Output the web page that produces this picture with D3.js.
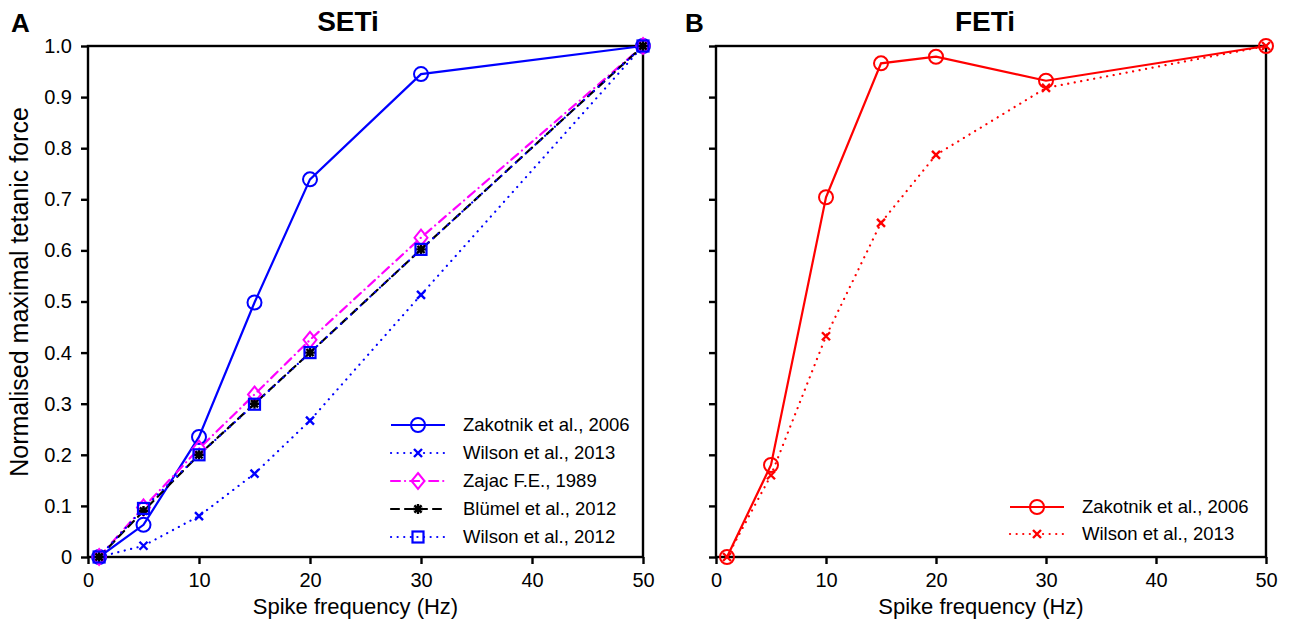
<!DOCTYPE html>
<html>
<head>
<meta charset="utf-8">
<script src="https://cdn.jsdelivr.net/npm/d3@7"></script>
<style>
  html, body { margin: 0; padding: 0; background: #fff; }
  svg { display: block; font-family: "Liberation Sans", Arial, sans-serif; }
</style>
</head>
<body>
<svg id="chart" width="1295" height="623"></svg>
<script>
// Spike frequencies (Hz) shared by all series
const freqs = [1, 5, 10, 15, 20, 30, 50];

// SETi – normalised maximal tetanic force
const setiZakotnik2006 = [0, 0.063, 0.235, 0.498, 0.739, 0.945, 1.0];
const setiWilson2013   = [0, 0.022, 0.080, 0.163, 0.267, 0.513, 1.0];
const setiZajac1989    = [0, 0.097, 0.212, 0.318, 0.425, 0.625, 1.0];
const setiBlumel2012   = [0, 0.090, 0.200, 0.300, 0.400, 0.602, 1.0];
const setiWilson2012   = [0, 0.095, 0.200, 0.299, 0.400, 0.602, 1.0];

// FETi – normalised maximal tetanic force
const fetiZakotnik2006 = [0, 0.180, 0.704, 0.966, 0.979, 0.932, 1.0];
const fetiWilson2013   = [0, 0.160, 0.432, 0.654, 0.787, 0.918, 1.0];

const xTicks = [0, 10, 20, 30, 40, 50];
const yTicks = [0, 0.1, 0.2, 0.3, 0.4, 0.5, 0.6, 0.7, 0.8, 0.9, 1.0];

const BLUE = "#0000ff", MAGENTA = "#ff00ff", BLACK = "#000000", RED = "#ff0000";

const seriesA = [
  { name: "Zakotnik et al., 2006", values: setiZakotnik2006, color: BLUE,    dash: null,        marker: "circle"  },
  { name: "Wilson et al., 2013",   values: setiWilson2013,   color: BLUE,    dash: "0.1 6.5",   marker: "cross"   },
  { name: "Zajac F.E., 1989",      values: setiZajac1989,    color: MAGENTA, dash: "9 5 0.1 5", marker: "diamond" },
  { name: "Blümel et al., 2012",   values: setiBlumel2012,   color: BLACK,   dash: "8 6",       marker: "star"    },
  { name: "Wilson et al., 2012",   values: setiWilson2012,   color: BLUE,    dash: "0.1 6.5",   marker: "square"  }
];
const seriesB = [
  { name: "Zakotnik et al., 2006", values: fetiZakotnik2006, color: RED, dash: null,      marker: "circle" },
  { name: "Wilson et al., 2013",   values: fetiWilson2013,   color: RED, dash: "0.1 6.5", marker: "cross"  }
];

const svg = d3.select("#chart");

function drawMarker(g, type, color) {
  if (type === "circle") {
    g.append("circle").attr("r", 7).attr("fill", "none").attr("stroke", color).attr("stroke-width", 2);
  } else if (type === "cross") {
    g.append("path").attr("d", "M-4,-4L4,4M-4,4L4,-4").attr("stroke", color).attr("stroke-width", 2.4).attr("fill", "none");
  } else if (type === "diamond") {
    g.append("path").attr("d", "M0,-8L6.5,0L0,8L-6.5,0Z").attr("fill", "none").attr("stroke", color).attr("stroke-width", 2);
  } else if (type === "star") {
    g.append("path").attr("d", "M-5,0L5,0M0,-5L0,5M-3.6,-3.6L3.6,3.6M-3.6,3.6L3.6,-3.6").attr("stroke", color).attr("stroke-width", 2.4).attr("fill", "none");
  } else if (type === "square") {
    g.append("rect").attr("x", -5.5).attr("y", -5.5).attr("width", 11).attr("height", 11)
      .attr("fill", "none").attr("stroke", color).attr("stroke-width", 2.2);
  }
}

function panel(opts) {
  const { left, right, top, bottom, title, titleX, letter, letterX, series, showYLabels, legend } = opts;
  const x = d3.scaleLinear().domain([0, 50]).range([left, right]);
  const y = d3.scaleLinear().domain([0, 1]).range([bottom, top]);
  const g = svg.append("g");

  // frame
  g.append("rect").attr("x", left).attr("y", top).attr("width", right - left).attr("height", bottom - top)
    .attr("fill", "none").attr("stroke", "#000").attr("stroke-width", 2.4);

  // axes with outward ticks
  const xAxis = g.append("g").attr("transform", `translate(0,${bottom})`)
    .call(d3.axisBottom(x).tickValues(xTicks).tickSize(7).tickPadding(9).tickFormat(d3.format("d")));
  const yAxis = g.append("g").attr("transform", `translate(${left},0)`)
    .call(d3.axisLeft(y).tickValues(yTicks).tickSize(7).tickPadding(9)
      .tickFormat(showYLabels ? (d => d === 0 ? "0" : d3.format(".1f")(d)) : () => ""));
  [xAxis, yAxis].forEach(a => {
    a.select(".domain").remove();
    a.selectAll(".tick line").attr("stroke", "#000").attr("stroke-width", 2.4);
    a.selectAll(".tick text").attr("fill", "#000").style("font-size", "20px");
  });

  const line = d3.line().x((d, i) => x(freqs[i])).y(d => y(d));
  series.forEach(s => {
    g.append("path").datum(s.values).attr("d", line)
      .attr("fill", "none").attr("stroke", s.color).attr("stroke-width", 2.2)
      .attr("stroke-linecap", s.dash ? "round" : "butt")
      .attr("stroke-dasharray", s.dash);
  });
  series.forEach(s => {
    s.values.forEach((v, i) => {
      const mg = g.append("g").attr("transform", `translate(${x(freqs[i])},${y(v)})`);
      drawMarker(mg, s.marker, s.color);
    });
  });

  // titles and labels
  g.append("text").attr("x", titleX).attr("y", 31).attr("text-anchor", "middle")
    .style("font-size", "28px").style("font-weight", "bold").text(title);
  g.append("text").attr("x", letterX).attr("y", 32)
    .style("font-size", "26px").style("font-weight", "bold").text(letter);
  g.append("text").attr("x", (left + right) / 2 - 10).attr("y", 614).attr("text-anchor", "middle")
    .style("font-size", "22px").text("Spike frequency (Hz)");

  // legend
  series.forEach((s, i) => {
    const ly = legend.y + i * legend.step;
    g.append("line").attr("x1", legend.x).attr("x2", legend.x + 54).attr("y1", ly).attr("y2", ly)
      .attr("stroke", s.color).attr("stroke-width", 2.2)
      .attr("stroke-linecap", s.dash ? "round" : "butt")
      .attr("stroke-dasharray", s.dash);
    const mg = g.append("g").attr("transform", `translate(${legend.x + 27},${ly})`);
    drawMarker(mg, s.marker, s.color);
    g.append("text").attr("x", legend.x + 72).attr("y", ly).attr("dy", "0.35em")
      .style("font-size", "18.5px").text(s.name);
  });
  return { x, y };
}

panel({ left: 88, right: 643, top: 46, bottom: 557, title: "SETi", titleX: 348, letter: "A", letterX: 11,
  series: seriesA, showYLabels: true, legend: { x: 391, y: 425, step: 28 } });
panel({ left: 716, right: 1266, top: 46, bottom: 557, title: "FETi", titleX: 985, letter: "B", letterX: 685,
  series: seriesB, showYLabels: false, legend: { x: 1010, y: 507, step: 27 } });

svg.append("text").attr("transform", "translate(28,292) rotate(-90)").attr("text-anchor", "middle")
  .style("font-size", "25px").text("Normalised maximal tetanic force");
</script>
</body>
</html>
